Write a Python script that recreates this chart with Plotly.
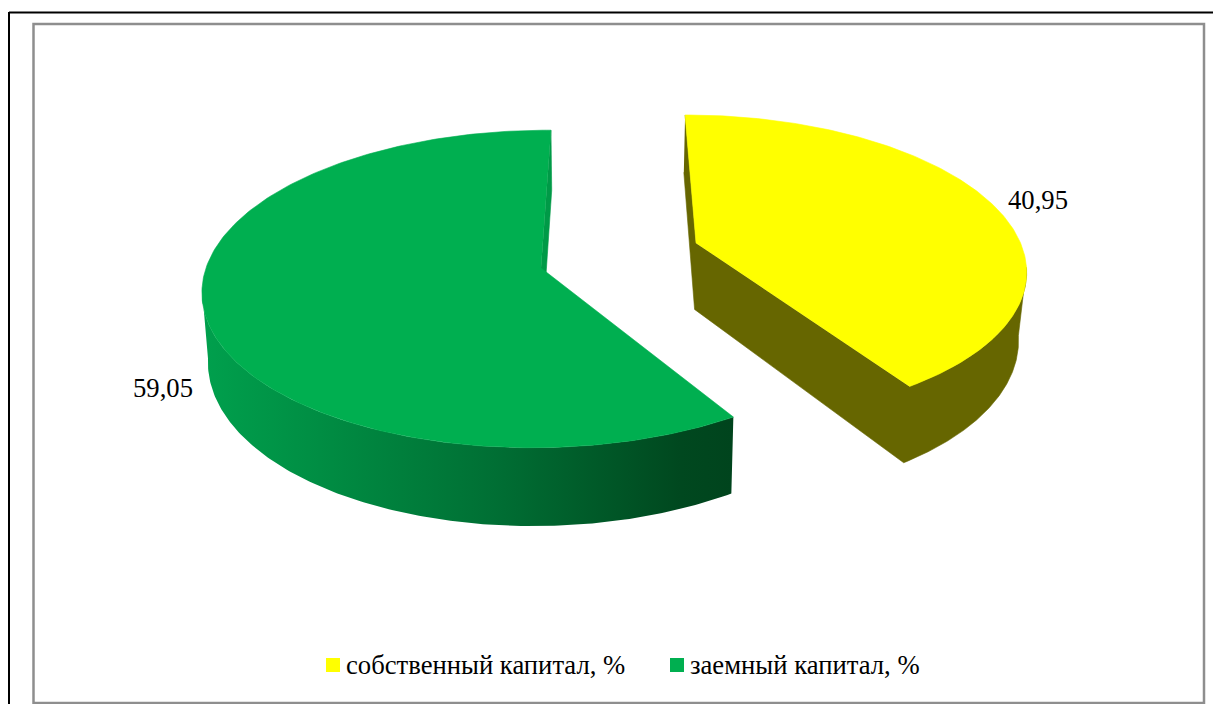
import numpy as np
import plotly.graph_objects as go

# ---- data ----
series_names = ["собственный капитал, %", "заемный капитал, %"]
series_values = [40.95, 59.05]
top_colors = ["#FFFF00", "#00AF50"]
radial_colors = ["#666600", "#009A47"]

# ---- projection of the tilted, exploded 3D pie ----
CY = 268.0                 # baseline y
RY = 156.0                 # disc depth radius
H = 68.0                   # thickness
# per slice: vanishing x, centre x, centre depth, x radius, perspective, bottom narrowing
YELLOW = dict(VX=622.0, X=698.0, W=25.5, RX=333.0, P=0.16, TAPER=0.02)
GREEN = dict(VX=600.0, X=541.0, W=0.0, RX=335.0, P=0.132, TAPER=0.015)


def project(s, X, W, depth=0.0):
    f = 1.0 / (1.0 + s["P"] * W / RY)
    taper = 1.0 - s["TAPER"] * depth
    return s["VX"] + (X - s["VX"]) * f * taper, CY - W * f + depth * H * f


def rim(s, theta_deg, depth=0.0):
    t = np.radians(theta_deg)
    return project(s, s["X"] + s["RX"] * np.sin(t), s["W"] + RY * np.cos(t), depth)


def apex(s, depth=0.0):
    return project(s, s["X"], s["W"], depth)


def poly(fig, xs, ys, color=None, gradient=None):
    kw = dict(x=list(xs), y=list(ys), mode="lines", fill="toself",
              hoverinfo="skip", showlegend=False)
    if gradient:
        kw["fillgradient"] = gradient
        kw["line"] = dict(width=0)
    else:
        kw["fillcolor"] = color
        kw["line"] = dict(width=0.6, color=color)
    fig.add_trace(go.Scatter(**kw))


total = sum(series_values)
sweep = [v / total * 360.0 for v in series_values]
start_yellow = -0.2
end_yellow = start_yellow + sweep[0]
start_green = 0.6 + sweep[0]
end_green = start_green + sweep[1]
# angles of the left and right silhouette of the disc
sil_green = 360 - np.degrees(np.arccos(-GREEN["P"]))
sil_yellow = np.degrees(np.arccos(-YELLOW["P"]))

fig = go.Figure()

# green: outer wall with gradient
th = np.linspace(start_green, sil_green, 160)
tx, ty = rim(GREEN, th)
bx, by = rim(GREEN, th, 1.0)
poly(fig, np.r_[tx, bx[::-1]], np.r_[ty, by[::-1]], gradient=dict(
    type="horizontal",
    colorscale=[[0, "#00A04D"], [0.2, "#008F44"], [0.55, "#006F34"],
                [0.9, "#00481F"], [1, "#00441D"]]))
# green: visible radial wall at the far edge
ax0, ay0 = apex(GREEN)
ax1, ay1 = apex(GREEN, 1.0)
ex0, ey0 = rim(GREEN, end_green)
ex1, ey1 = rim(GREEN, end_green, 1.0)
poly(fig, [ax0, ex0, ex1, ax1], [ay0, ey0, ey1, ay1], radial_colors[1])
# green: top
th = np.linspace(start_green, end_green, 240)
tx, ty = rim(GREEN, th)
poly(fig, np.r_[ax0, tx], np.r_[ay0, ty], top_colors[1])

# yellow: all visible walls as one outline
ax0, ay0 = apex(YELLOW)
ax1, ay1 = apex(YELLOW, 1.0)
sx0, sy0 = rim(YELLOW, start_yellow)
sx1, sy1 = rim(YELLOW, start_yellow, 1.0)
th = np.linspace(end_yellow, sil_yellow, 120)
tx, ty = rim(YELLOW, th)
bx, by = rim(YELLOW, th, 1.0)
poly(fig,
     np.r_[sx0, ax0, tx, bx[::-1], ax1, sx1],
     np.r_[sy0, ay0, ty, by[::-1], ay1, sy1],
     radial_colors[0])
# yellow: top
th = np.linspace(start_yellow, end_yellow, 200)
tx, ty = rim(YELLOW, th)
poly(fig, np.r_[ax0, tx], np.r_[ay0, ty], top_colors[0])

FONT = dict(family="Liberation Serif", size=26.67, color="black")

# value labels
label_pos = [(1038, 200), (163, 388)]
for v, (lx, ly) in zip(series_values, label_pos):
    fig.add_annotation(x=lx, y=ly, text=f"{v:.2f}".replace(".", ","),
                       showarrow=False, xanchor="center", yanchor="middle", font=FONT)

# legend keys and texts
legend_key_x = [333, 677]
legend_text_x = [345, 689]
for name, col, kx, tx_ in zip(series_names, top_colors, legend_key_x, legend_text_x):
    fig.add_trace(go.Scatter(x=[kx], y=[665], mode="markers",
                             marker=dict(symbol="square", size=14, color=col),
                             hoverinfo="skip", showlegend=False))
    fig.add_annotation(x=tx_, y=665, text=name, showarrow=False, xanchor="left",
                       yanchor="middle", xshift=-1, font=FONT)

# frames
shapes = [
    dict(type="line", x0=9, x1=1213, y0=12.5, y1=12.5, line=dict(color="black", width=2)),
    dict(type="line", x0=9, x1=9, y0=12, y1=704, line=dict(color="black", width=2)),
    dict(type="rect", x0=33.5, x1=1204, y0=24, y1=703,
         line=dict(color="#8E8E8E", width=2.5), fillcolor="rgba(0,0,0,0)"),
]

fig.update_layout(
    width=1214, height=704, margin=dict(l=0, r=0, t=0, b=0),
    paper_bgcolor="white", plot_bgcolor="white", showlegend=False, shapes=shapes,
    xaxis=dict(range=[0, 1214], visible=False, fixedrange=True),
    yaxis=dict(range=[704, 0], visible=False, fixedrange=True),
)
fig.write_html("out.html", config={"displayModeBar": False},
               post_script="document.body.style.margin='0';document.body.style.overflow='hidden';")
